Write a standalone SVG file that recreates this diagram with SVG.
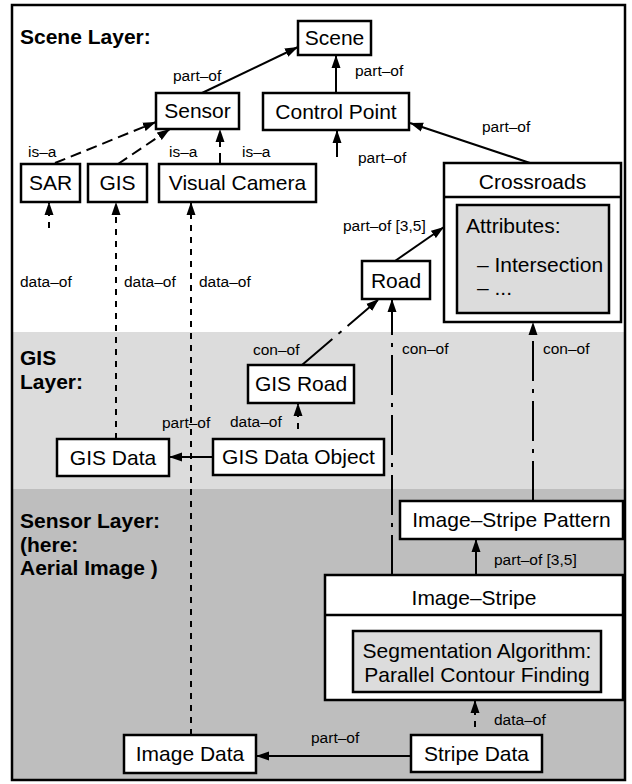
<svg xmlns="http://www.w3.org/2000/svg" width="632" height="784" viewBox="0 0 632 784">
  <style>
    .node { fill: #ffffff; stroke: #000000; stroke-width: 2.5; }
    .inner { fill: #dcdcdc; stroke: #000000; stroke-width: 2.5; }
    .divider { stroke: #000000; stroke-width: 2.5; }
    .label { font-family: "Liberation Sans", Arial, sans-serif; font-size: 21px; fill: #000000; text-anchor: middle; }
    .text { font-family: "Liberation Sans", Arial, sans-serif; font-size: 21px; fill: #000000; }
    .layer { font-family: "Liberation Sans", Arial, sans-serif; font-size: 21px; font-weight: bold; fill: #000000; }
    .edge-label { font-family: "Liberation Sans", Arial, sans-serif; font-size: 15.5px; fill: #000000; }
    .edge { fill: none; stroke: #000000; stroke-width: 2; marker-end: url(#arrow); }
    .isa { stroke-dasharray: 11 6; }
    .dataof { stroke-dasharray: 6 6; }
    .conof { stroke-dasharray: 40 8 4 8; }
  </style>
  <defs>
    <marker id="arrow" markerUnits="userSpaceOnUse" markerWidth="14" markerHeight="10" refX="13" refY="5" orient="auto">
      <path d="M0,0.5 L13,5 L0,9.5 z" fill="#000000"/>
    </marker>
  </defs>

  <!-- layer bands -->
  <g id="layers">
    <rect x="12" y="5" width="613" height="327" fill="#ffffff"/>
    <rect x="12" y="332" width="613" height="157" fill="#dcdcdc"/>
    <rect x="12" y="489" width="613" height="291" fill="#bebebe"/>
    <rect x="12" y="5" width="613" height="775" fill="none" stroke="#000000" stroke-width="2.5"/>
    <text class="layer" x="20" y="44">Scene Layer:</text>
    <text class="layer" x="20" y="365">GIS</text>
    <text class="layer" x="20" y="389">Layer:</text>
    <text class="layer" x="20" y="528">Sensor Layer:</text>
    <text class="layer" x="20" y="552">(here:</text>
    <text class="layer" x="20" y="575">Aerial Image )</text>
  </g>

  <!-- connectors -->
  <g id="connectors">
    <path class="edge" d="M202,93 L298,47"/>
    <path class="edge" d="M336,93 L336,55"/>
    <path class="edge" d="M530,163 L410,123"/>
    <path class="edge" d="M337,157 L337,130"/>
    <path class="edge isa" d="M55,163 L156,122"/>
    <path class="edge isa" d="M118,164 L170,129"/>
    <path class="edge isa" d="M220,164 L220,129"/>
    <path class="edge dataof" d="M49,228 L49,202"/>
    <path class="edge dataof" d="M116,439 L116,202"/>
    <path class="edge dataof" d="M191,735 L191,202"/>
    <path class="edge conof" d="M302,365 L379,299"/>
    <path class="edge conof" d="M392,575 L392,299"/>
    <path class="edge conof" d="M533,501 L533,322"/>
    <path class="edge" d="M395,261 L444,227"/>
    <path class="edge dataof" d="M298,429 L298,403"/>
    <path class="edge" d="M213,457 L169,457"/>
    <path class="edge" d="M476,575 L476,539"/>
    <path class="edge dataof" d="M475,727 L475,700"/>
    <path class="edge" d="M411,756 L256,756"/>

    <text class="edge-label" x="173" y="81">part–of</text>
    <text class="edge-label" x="355" y="76">part–of</text>
    <text class="edge-label" x="482" y="132">part–of</text>
    <text class="edge-label" x="358" y="163">part–of</text>
    <text class="edge-label" x="28" y="157">is–a</text>
    <text class="edge-label" x="169" y="157">is–a</text>
    <text class="edge-label" x="242" y="157">is–a</text>
    <text class="edge-label" x="20" y="287">data–of</text>
    <text class="edge-label" x="124" y="287">data–of</text>
    <text class="edge-label" x="199" y="287">data–of</text>
    <text class="edge-label" x="343" y="231">part–of [3,5]</text>
    <text class="edge-label" x="253" y="355">con–of</text>
    <text class="edge-label" x="402" y="354">con–of</text>
    <text class="edge-label" x="543" y="354">con–of</text>
    <text class="edge-label" x="230" y="427">data–of</text>
    <text class="edge-label" x="162" y="428">part–of</text>
    <text class="edge-label" x="494" y="565">part–of [3,5]</text>
    <text class="edge-label" x="494" y="725">data–of</text>
    <text class="edge-label" x="311" y="743">part–of</text>
  </g>

  <!-- scene layer nodes -->
  <g id="scene">
    <rect class="node" x="298" y="21" width="73" height="34"/>
    <text class="label" x="334.5" y="45">Scene</text>
  </g>
  <g id="sensor">
    <rect class="node" x="156" y="93" width="83" height="36"/>
    <text class="label" x="197.5" y="118">Sensor</text>
  </g>
  <g id="control-point">
    <rect class="node" x="263" y="93" width="146" height="37"/>
    <text class="label" x="336" y="119">Control Point</text>
  </g>
  <g id="sar">
    <rect class="node" x="21" y="164" width="59" height="38"/>
    <text class="label" x="50.5" y="190">SAR</text>
  </g>
  <g id="gis">
    <rect class="node" x="88" y="164" width="59" height="38"/>
    <text class="label" x="117.5" y="190">GIS</text>
  </g>
  <g id="visual-camera">
    <rect class="node" x="159" y="164" width="157" height="38"/>
    <text class="label" x="237.5" y="190">Visual Camera</text>
  </g>
  <g id="crossroads">
    <rect class="node" x="444" y="163" width="177" height="159"/>
    <line class="divider" x1="444" y1="197" x2="621" y2="197"/>
    <text class="label" x="532.5" y="189">Crossroads</text>
    <rect class="inner" x="457" y="205" width="152" height="108"/>
    <text class="text" x="466" y="233">Attributes:</text>
    <text class="text" x="477" y="272">– Intersection</text>
    <text class="text" x="477" y="295">– ...</text>
  </g>
  <g id="road">
    <rect class="node" x="362" y="261" width="68" height="38"/>
    <text class="label" x="396" y="287.5">Road</text>
  </g>

  <!-- GIS layer nodes -->
  <g id="gis-road">
    <rect class="node" x="248" y="365" width="106" height="38"/>
    <text class="label" x="301" y="391">GIS Road</text>
  </g>
  <g id="gis-data-object">
    <rect class="node" x="213" y="439" width="171" height="36"/>
    <text class="label" x="298.5" y="464">GIS Data Object</text>
  </g>
  <g id="gis-data">
    <rect class="node" x="57" y="439" width="112" height="37"/>
    <text class="label" x="113" y="465">GIS Data</text>
  </g>

  <!-- sensor layer nodes -->
  <g id="image-stripe-pattern">
    <rect class="node" x="400" y="501" width="223" height="38"/>
    <text class="label" x="511.5" y="527">Image–Stripe Pattern</text>
  </g>
  <g id="image-stripe">
    <rect class="node" x="325" y="575" width="298" height="125"/>
    <line class="divider" x1="325" y1="615" x2="623" y2="615"/>
    <text class="label" x="474" y="605">Image–Stripe</text>
    <rect class="inner" x="353" y="631" width="248" height="61"/>
    <text class="label" x="477" y="658">Segmentation Algorithm:</text>
    <text class="label" x="477" y="682">Parallel Contour Finding</text>
  </g>
  <g id="stripe-data">
    <rect class="node" x="411" y="735" width="131" height="37"/>
    <text class="label" x="476.5" y="761">Stripe Data</text>
  </g>
  <g id="image-data">
    <rect class="node" x="124" y="735" width="132" height="38"/>
    <text class="label" x="190" y="761">Image Data</text>
  </g>
</svg>
